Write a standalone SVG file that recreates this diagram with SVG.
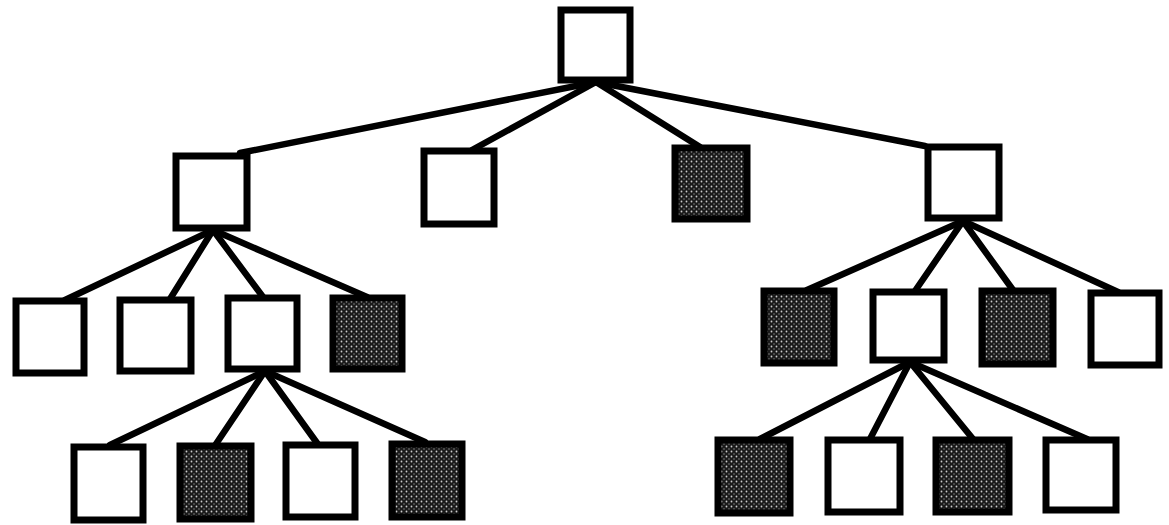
<svg xmlns="http://www.w3.org/2000/svg" width="1169" height="525" viewBox="0 0 1169 525">
<style>
.n{fill:#fff;stroke:#000;stroke-width:7}
.d{fill:url(#stip);stroke:#000;stroke-width:7}
.c line{stroke:#000;stroke-width:6.5;stroke-linecap:round}
</style>
<defs>
<pattern id="stip" width="5" height="5" patternUnits="userSpaceOnUse">
<rect width="5" height="5" fill="#1a1a1a"/>
<circle cx="1.5" cy="1.5" r="0.9" fill="#ccc"/>
<circle cx="4" cy="4" r="0.7" fill="#999"/>
</pattern>
</defs>
<rect width="1169" height="525" fill="#fff"/>
<g id="connectors" class="c">
<line x1="596" y1="82" x2="240" y2="153"/>
<line x1="596" y1="82" x2="472" y2="150"/>
<line x1="596" y1="82" x2="700" y2="147"/>
<line x1="596" y1="82" x2="925" y2="146"/>
<line x1="213" y1="230" x2="65" y2="300"/>
<line x1="213" y1="230" x2="170" y2="299"/>
<line x1="213" y1="230" x2="263" y2="297"/>
<line x1="213" y1="230" x2="367" y2="297"/>
<line x1="265" y1="371" x2="110" y2="445"/>
<line x1="265" y1="371" x2="216" y2="444"/>
<line x1="265" y1="371" x2="317" y2="443"/>
<line x1="265" y1="371" x2="425" y2="442"/>
<line x1="963" y1="221" x2="807" y2="290"/>
<line x1="963" y1="221" x2="915" y2="291"/>
<line x1="963" y1="221" x2="1013" y2="290"/>
<line x1="963" y1="221" x2="1118" y2="292"/>
<line x1="910" y1="362" x2="760" y2="439"/>
<line x1="910" y1="362" x2="870" y2="439"/>
<line x1="910" y1="362" x2="973" y2="439"/>
<line x1="910" y1="362" x2="1087" y2="439"/>
</g>
<g id="root"><rect class="n" x="561" y="10" width="69" height="70"/></g>
<g id="l1a"><rect class="n" x="176" y="156" width="71" height="72"/></g>
<g id="l1b"><rect class="n" x="424" y="151" width="70" height="73"/></g>
<g id="l1c"><rect class="d" x="675" y="148" width="72" height="71"/></g>
<g id="l1d"><rect class="n" x="928" y="147" width="71" height="71"/></g>
<g id="l2a1"><rect class="n" x="16" y="301" width="68" height="72"/></g>
<g id="l2a2"><rect class="n" x="120" y="300" width="71" height="71"/></g>
<g id="l2a3"><rect class="n" x="228" y="298" width="69" height="71"/></g>
<g id="l2a4"><rect class="d" x="333" y="298" width="69" height="71"/></g>
<g id="l3a1"><rect class="n" x="74" y="447" width="69" height="73"/></g>
<g id="l3a2"><rect class="d" x="180" y="446" width="71" height="73"/></g>
<g id="l3a3"><rect class="n" x="286" y="445" width="69" height="72"/></g>
<g id="l3a4"><rect class="d" x="392" y="444" width="70" height="73"/></g>
<g id="l2b1"><rect class="d" x="764" y="291" width="70" height="72"/></g>
<g id="l2b2"><rect class="n" x="873" y="292" width="71" height="68"/></g>
<g id="l2b3"><rect class="d" x="982" y="291" width="71" height="73"/></g>
<g id="l2b4"><rect class="n" x="1091" y="293" width="68" height="72"/></g>
<g id="l3b1"><rect class="d" x="718" y="440" width="72" height="73"/></g>
<g id="l3b2"><rect class="n" x="828" y="440" width="72" height="72"/></g>
<g id="l3b3"><rect class="d" x="936" y="440" width="73" height="72"/></g>
<g id="l3b4"><rect class="n" x="1046" y="440" width="70" height="70"/></g>
</svg>
